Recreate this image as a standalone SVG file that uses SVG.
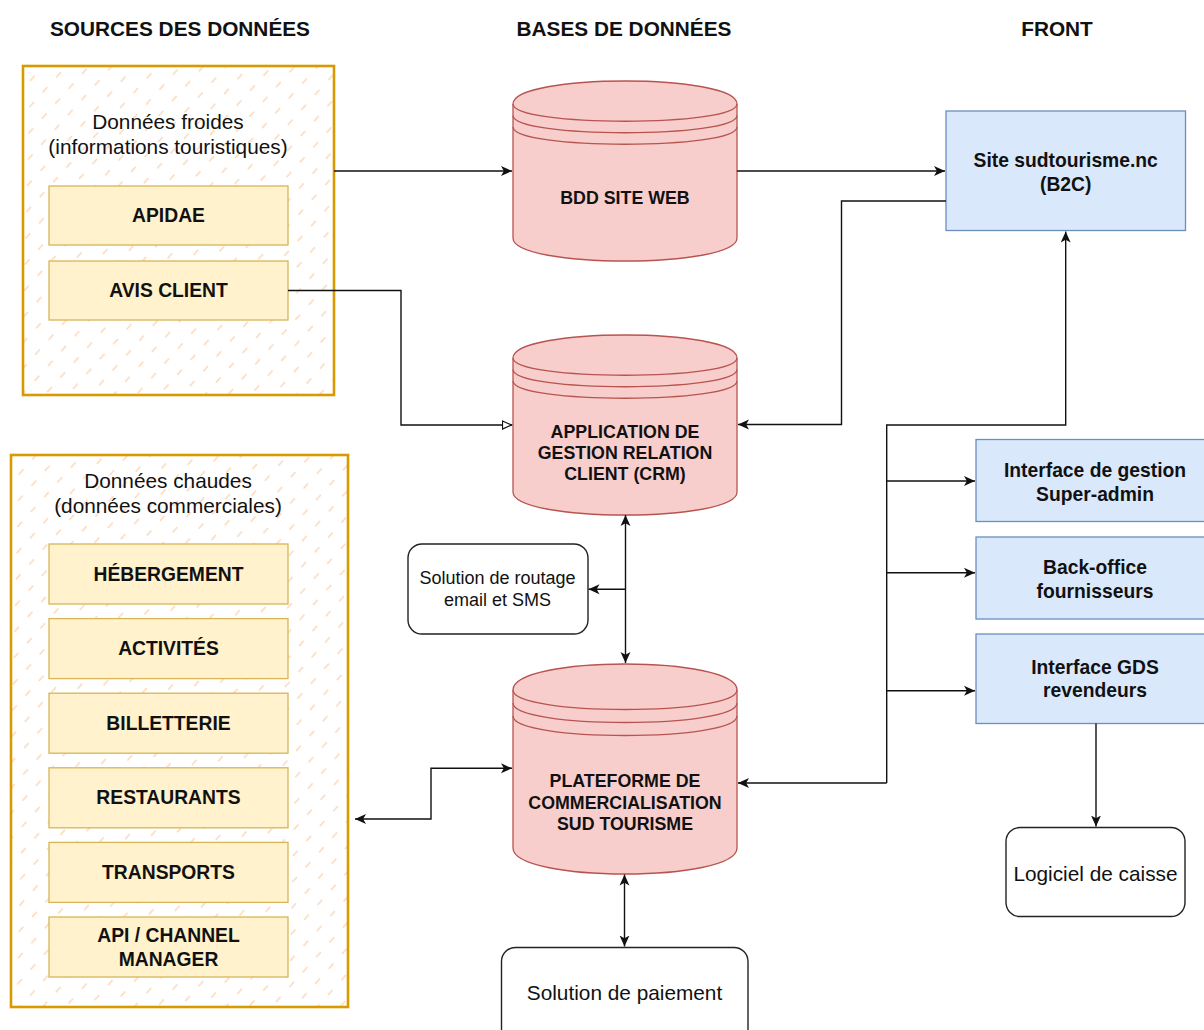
<svg xmlns="http://www.w3.org/2000/svg" width="1204" height="1030" viewBox="0 0 1204 1030">
<style>
text{font-family:"Liberation Sans",Arial,Helvetica,sans-serif;fill:#111;text-anchor:middle;dominant-baseline:central}
.hdr{font-size:20.8px;font-weight:bold}
.ttl{font-size:20.8px}
.src{fill:#fff2cc;stroke:#d6b656;stroke-width:1.3}
.srct{font-size:19.3px;font-weight:bold}
.cont{fill:url(#hatch);stroke:#d79b00;stroke-width:2.6}
.cyl{fill:#f8cecc;stroke:#b85450;stroke-width:1.3}
.cyll{fill:none;stroke:#b85450;stroke-width:1.3}
.cylt{font-size:17.8px;font-weight:bold}
.front{fill:#dae8fc;stroke:#6c8ebf;stroke-width:1.3}
.frontt{font-size:19.3px;font-weight:bold}
.plain{fill:#fff;stroke:#222;stroke-width:1.4}
.edge{fill:none;stroke:#111;stroke-width:1.4}
</style>
<defs>
<pattern id="hatch" patternUnits="userSpaceOnUse" width="20" height="17" patternTransform="rotate(-48)">
<rect width="20" height="17" fill="#fff"/>
<line x1="0" y1="8.5" x2="7" y2="8.5" stroke="#fbd6b4" stroke-width="1.4"/>
</pattern>
<marker id="arr" viewBox="0 0 10 10" refX="10" refY="5" markerWidth="11" markerHeight="11" markerUnits="userSpaceOnUse" orient="auto-start-reverse">
<path d="M0,0.5 L10,5 L0,9.5 L2.6,5 Z" fill="#111"/>
</marker>
<marker id="open" viewBox="0 0 11 10" refX="10.5" refY="5" markerWidth="11" markerHeight="10" markerUnits="userSpaceOnUse" orient="auto">
<path d="M1,1 L10,5 L1,9 Z" fill="#fff" stroke="#111" stroke-width="1.2"/>
</marker>
</defs>
<rect width="1204" height="1030" fill="#fff"/>

<g id="headers">
<text class="hdr" x="180" y="28">SOURCES DES DONNÉES</text>
<text class="hdr" x="624" y="28">BASES DE DONNÉES</text>
<text class="hdr" x="1057" y="28">FRONT</text>
</g>

<g id="donnees-froides">
<rect class="cont" x="23" y="66" width="311" height="329"/>
<text class="ttl" x="168" y="121.5">Données froides</text>
<text class="ttl" x="168" y="146.5">(informations touristiques)</text>
</g>
<g id="apidae"><rect class="src" x="49" y="186" width="239" height="59"/><text class="srct" x="168.5" y="215.5">APIDAE</text></g>
<g id="avis-client"><rect class="src" x="49" y="261" width="239" height="59"/><text class="srct" x="168.5" y="290.5">AVIS CLIENT</text></g>

<g id="donnees-chaudes">
<rect class="cont" x="11" y="455" width="337" height="552"/>
<text class="ttl" x="168" y="480">Données chaudes</text>
<text class="ttl" x="168" y="505">(données commerciales)</text>
</g>
<g id="hebergement"><rect class="src" x="49" y="544" width="239" height="60"/><text class="srct" x="168.5" y="574">HÉBERGEMENT</text></g>
<g id="activites"><rect class="src" x="49" y="618.6" width="239" height="60"/><text class="srct" x="168.5" y="648.6">ACTIVITÉS</text></g>
<g id="billetterie"><rect class="src" x="49" y="693.2" width="239" height="60"/><text class="srct" x="168.5" y="723.2">BILLETTERIE</text></g>
<g id="restaurants"><rect class="src" x="49" y="767.8" width="239" height="60"/><text class="srct" x="168.5" y="797">RESTAURANTS</text></g>
<g id="transports"><rect class="src" x="49" y="842.4" width="239" height="60"/><text class="srct" x="168.5" y="872">TRANSPORTS</text></g>
<g id="api-channel"><rect class="src" x="49" y="917" width="239" height="60"/><text class="srct" x="168.5" y="935.5">API / CHANNEL</text><text class="srct" x="168.5" y="959">MANAGER</text></g>

<g id="bdd-site-web">
<path class="cyl" d="M513,104 C513,73.33 737,73.33 737,104 L737,238 C737,268.67 513,268.67 513,238 Z"/>
<path class="cyll" d="M513,104 C513,127 737,127 737,104 M513,115.5 C513,138.5 737,138.5 737,115.5 M513,127 C513,150 737,150 737,127"/>
<text class="cylt" x="625" y="198.3">BDD SITE WEB</text>
</g>

<g id="crm">
<path class="cyl" d="M513,358 C513,327.33 737,327.33 737,358 L737,492 C737,522.67 513,522.67 513,492 Z"/>
<path class="cyll" d="M513,358 C513,381 737,381 737,358 M513,369.5 C513,392.5 737,392.5 737,369.5 M513,381 C513,404 737,404 737,381"/>
<text class="cylt" x="625" y="431.7">APPLICATION DE</text>
<text class="cylt" x="625" y="452.7">GESTION RELATION</text>
<text class="cylt" x="625" y="474">CLIENT (CRM)</text>
</g>

<g id="plateforme">
<path class="cyl" d="M513,690 C513,655.33 737,655.33 737,690 L737,848 C737,882.67 513,882.67 513,848 Z"/>
<path class="cyll" d="M513,690 C513,716 737,716 737,690 M513,703 C513,729 737,729 737,703 M513,716 C513,742 737,742 737,716"/>
<text class="cylt" x="625" y="781">PLATEFORME DE</text>
<text class="cylt" x="625" y="802.7">COMMERCIALISATION</text>
<text class="cylt" x="625" y="824">SUD TOURISME</text>
</g>

<g id="routage">
<rect class="plain" x="408" y="544" width="180" height="90" rx="14"/>
<text x="497.5" y="578" style="font-size:18px">Solution de routage</text>
<text x="497.5" y="600" style="font-size:18px">email et SMS</text>
</g>

<g id="paiement">
<rect class="plain" x="501.5" y="947.5" width="246.5" height="100" rx="14"/>
<text x="624.5" y="992" style="font-size:20.8px">Solution de paiement</text>
</g>

<g id="site-b2c">
<rect class="front" x="946" y="111" width="239.5" height="119.5"/>
<text class="frontt" x="1065.7" y="160">Site sudtourisme.nc</text>
<text class="frontt" x="1065.7" y="184">(B2C)</text>
</g>
<g id="super-admin">
<rect class="front" x="976" y="439.5" width="240" height="82"/>
<text class="frontt" x="1095" y="470.5">Interface de gestion</text>
<text class="frontt" x="1095" y="494">Super-admin</text>
</g>
<g id="back-office">
<rect class="front" x="976" y="537" width="240" height="82"/>
<text class="frontt" x="1095" y="567.3">Back-office</text>
<text class="frontt" x="1095" y="591.7">fournisseurs</text>
</g>
<g id="gds">
<rect class="front" x="976" y="634" width="240" height="89.5"/>
<text class="frontt" x="1095" y="667.3">Interface GDS</text>
<text class="frontt" x="1095" y="690.7">revendeurs</text>
</g>
<g id="logiciel-caisse">
<rect class="plain" x="1006" y="827.5" width="179" height="89" rx="14"/>
<text x="1095.5" y="873" style="font-size:20.8px">Logiciel de caisse</text>
</g>

<g id="connectors">
<path class="edge" d="M334,171 L512,171" marker-end="url(#arr)"/>
<path class="edge" d="M737,171 L945,171" marker-end="url(#arr)"/>
<path class="edge" d="M946,201 L841.5,201 L841.5,424.5 L738,424.5" marker-end="url(#arr)"/>
<path class="edge" d="M288,290.5 L401,290.5 L401,425 L512,425" marker-end="url(#open)"/>
<path class="edge" d="M625.5,515 L625.5,663" marker-start="url(#arr)" marker-end="url(#arr)"/>
<path class="edge" d="M625.5,589.3 L588.5,589.3" marker-end="url(#arr)"/>
<path class="edge" d="M624.5,874.5 L624.5,946.5" marker-start="url(#arr)" marker-end="url(#arr)"/>
<path class="edge" d="M512,768.3 L431,768.3 L431,819 L355,819" marker-start="url(#arr)" marker-end="url(#arr)"/>
<path class="edge" d="M886.7,783 L738,783" marker-end="url(#arr)"/>
<path class="edge" d="M886.7,783 L886.7,425 L1065.7,425 L1065.7,231.5" marker-end="url(#arr)"/>
<path class="edge" d="M886.7,481 L975,481" marker-end="url(#arr)"/>
<path class="edge" d="M886.7,572.7 L975,572.7" marker-end="url(#arr)"/>
<path class="edge" d="M886.7,690.7 L975,690.7" marker-end="url(#arr)"/>
<path class="edge" d="M1096,723.5 L1096,826.5" marker-end="url(#arr)"/>
</g>
</svg>
